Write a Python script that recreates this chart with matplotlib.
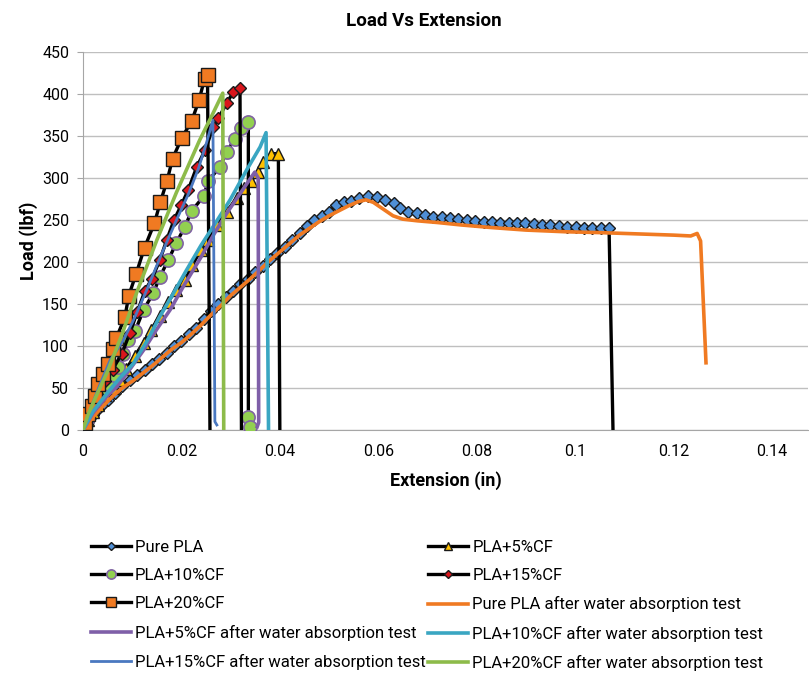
import matplotlib
matplotlib.use("Agg")
import matplotlib.pyplot as plt

plt.rcParams['font.family'] = ['Roboto', 'DejaVu Sans']

# ---------------- data ----------------
pure_x = [0, 0.001, 0.002, 0.003, 0.004, 0.005, 0.0065, 0.008, 0.0095, 0.011, 0.0125, 0.014,
          0.0155, 0.017, 0.0185, 0.020, 0.0215, 0.023, 0.0245, 0.026, 0.0275, 0.029, 0.0305,
          0.032, 0.0335, 0.035, 0.0365, 0.038, 0.0395, 0.041, 0.0425, 0.044, 0.0455, 0.047,
          0.0485, 0.050, 0.0515, 0.053, 0.0545, 0.056, 0.058, 0.0597, 0.0614, 0.0631, 0.0644,
          0.0661, 0.0678, 0.0695, 0.0712, 0.0729, 0.0746, 0.0763, 0.078, 0.0797, 0.0814, 0.0831,
          0.0848, 0.0865, 0.0882, 0.0899, 0.0916, 0.0933, 0.095, 0.0967, 0.0984, 0.1001, 0.1018,
          0.1035, 0.1052, 0.1069, 0.1077]
pure_y = [0, 10, 18, 25, 31, 36, 44, 52, 59, 65, 71, 78, 84, 92, 100, 106, 114, 122, 132, 142,
          150, 158, 166, 174, 180, 188, 195, 203, 211, 218, 226, 234, 243, 250, 255, 260, 268,
          271, 273, 276, 279, 277, 274, 270, 264, 260, 258, 256, 254, 253, 252, 251, 250, 249,
          248, 248, 247, 246, 246, 246, 245, 244, 244, 243, 242, 242, 241, 241, 240, 240, 0]

cf5_x = [0, 0.001, 0.002, 0.003, 0.0045, 0.006, 0.0075, 0.0088, 0.0105, 0.0123, 0.0138, 0.0156,
         0.0172, 0.019, 0.0207, 0.0222, 0.0239, 0.0255, 0.0272, 0.0292, 0.0312, 0.0327, 0.0342,
         0.0356, 0.0366, 0.0383, 0.0397, 0.0400]
cf5_y = [0, 12, 22, 30, 42, 50, 59, 73, 88, 104, 119, 136, 152, 167, 178, 196, 214, 226, 244,
         260, 276, 288, 297, 307, 319, 329, 329, 1]

cf10_x = [0, 0.001, 0.002, 0.0035, 0.005, 0.0062, 0.0072, 0.0082, 0.0092, 0.0106, 0.0123, 0.0143,
          0.0156, 0.0173, 0.019, 0.0207, 0.0221, 0.0245, 0.0255, 0.0278, 0.0292, 0.0309, 0.0322,
          0.0336, 0.0336, 0.034]
cf10_y = [0, 14, 27, 42, 55, 65, 75, 91, 107, 118, 143, 163, 182, 202, 223, 242, 261, 278, 297,
          313, 331, 347, 359, 367, 15, 3]

cf15_x = [0, 0.001, 0.002, 0.003, 0.0045, 0.006, 0.0079, 0.0095, 0.011, 0.0126, 0.014, 0.0156,
          0.017, 0.0185, 0.020, 0.0214, 0.0231, 0.0248, 0.0265, 0.0275, 0.0292, 0.0305, 0.0319,
          0.0322]
cf15_y = [0, 15, 30, 42, 58, 72, 91, 115, 140, 166, 180, 202, 226, 250, 268, 286, 313, 333, 361,
          371, 389, 402, 407, 0]

cf20_x = [0, 0.0005, 0.0011, 0.0018, 0.0024, 0.0031, 0.0041, 0.0051, 0.0061, 0.0068, 0.0085,
          0.0093, 0.0108, 0.0125, 0.0145, 0.0157, 0.0171, 0.0182, 0.0201, 0.0221, 0.0236, 0.0247,
          0.0253, 0.0258]
cf20_y = [0, 8, 19, 29, 41, 55, 67, 79, 97, 110, 134, 160, 186, 217, 246, 271, 297, 323, 348, 368,
          393, 418, 423, 0]

pure_w_x = [0, 0.002, 0.004, 0.006, 0.008, 0.010, 0.012, 0.014, 0.016, 0.018, 0.020, 0.022, 0.024,
            0.026, 0.028, 0.030, 0.032, 0.034, 0.036, 0.038, 0.040, 0.042, 0.044, 0.046, 0.048,
            0.050, 0.052, 0.054, 0.056, 0.0575, 0.059, 0.061, 0.063, 0.065, 0.068, 0.072, 0.077,
            0.083, 0.090, 0.098, 0.105, 0.110, 0.115, 0.120, 0.1235, 0.1248, 0.1255, 0.1266]
pure_w_y = [0, 15, 28, 40, 50, 58, 67, 76, 86, 96, 104, 114, 125, 137, 148, 160, 170, 180, 191,
            202, 212, 222, 232, 240, 248, 255, 261, 267, 272, 274, 271, 263, 255, 251, 249, 247,
            244, 241, 238, 236, 235, 234, 233, 232, 231, 234, 225, 80]

cf5_w_x = [0, 0.002, 0.0045, 0.0068, 0.0095, 0.0123, 0.015, 0.0177, 0.0205, 0.0238, 0.0265,
           0.0292, 0.032, 0.0349, 0.0356, 0.0357, 0.0354]
cf5_w_y = [0, 20, 38, 51, 72, 95, 120, 143, 172, 204, 232, 258, 282, 307, 300, 9, 4]

cf10_w_x = [0, 0.002, 0.0048, 0.0075, 0.0102, 0.013, 0.0156, 0.0183, 0.021, 0.024, 0.0271,
            0.0299, 0.0333, 0.036, 0.0372, 0.0377]
cf10_w_y = [0, 22, 43, 62, 79, 106, 135, 162, 190, 220, 248, 274, 310, 337, 354, 0]

cf15_w_x = [0, 0.0015, 0.0035, 0.0055, 0.008, 0.0102, 0.0129, 0.016, 0.019, 0.0215, 0.0235,
            0.0251, 0.0264, 0.0268, 0.0272]
cf15_w_y = [0, 25, 55, 83, 105, 130, 166, 210, 250, 282, 312, 342, 369, 10, 6]

cf20_w_x = [0, 0.001, 0.0025, 0.005, 0.008, 0.011, 0.015, 0.019, 0.0237, 0.0265, 0.0284, 0.0286]
cf20_w_y = [0, 18, 38, 70, 115, 165, 226, 283, 345, 378, 401, 0]

x_ticks = [0, 0.02, 0.04, 0.06, 0.08, 0.1, 0.12, 0.14]
x_tick_labels = ['0', '0.02', '0.04', '0.06', '0.08', '0.1', '0.12', '0.14']
y_ticks = [0, 50, 100, 150, 200, 250, 300, 350, 400, 450]

labels = ['Pure PLA', 'PLA+5%CF', 'PLA+10%CF', 'PLA+15%CF', 'PLA+20%CF',
          'Pure PLA after water absorption test', 'PLA+5%CF after water absorption test',
          'PLA+10%CF after water absorption test', 'PLA+15%CF after water absorption test',
          'PLA+20%CF after water absorption test']

# ---------------- figure ----------------
fig = plt.figure(figsize=(8.09, 6.76), dpi=100)
ax = fig.add_axes([83 / 809, 1 - 430 / 676, (808 - 83) / 809, (430 - 52) / 676])

handles = {}

def marked(x, y, marker, face, edge, ms, label, mew=1.0):
    n = len(x)
    h, = ax.plot(x, y, color='black', lw=2.4, marker=marker, ms=ms, mfc=face, mec=edge,
                 mew=mew, markevery=list(range(n - 1)) if y[-1] < 5 else None, label=label,
                 zorder=3)
    handles[label] = h

marked(pure_x, pure_y, 'D', '#4F8FD6', '#1a1a1a', 6.5, labels[0])
marked(cf5_x, cf5_y, '^', '#FFC000', '#1a1a1a', 8, labels[1])
h, = ax.plot(cf10_x, cf10_y, color='black', lw=2.4, marker='o', ms=9.5, mfc='#92D050',
             mec='#8064A2', mew=1.2, label=labels[2], zorder=3)
handles[labels[2]] = h
marked(cf15_x, cf15_y, 'D', '#D9161C', '#1a1a1a', 6.5, labels[3])
marked(cf20_x, cf20_y, 's', '#F07A22', '#1a1a1a', 10, labels[4])

def plain(x, y, color, lw, label):
    h, = ax.plot(x, y, color=color, lw=lw, label=label, zorder=4)
    handles[label] = h

plain(pure_w_x, pure_w_y, '#F07A22', 2.6, labels[5])
plain(cf5_w_x, cf5_w_y, '#7F5FA8', 2.6, labels[6])
plain(cf10_w_x, cf10_w_y, '#3AA6C2', 2.6, labels[7])
plain(cf15_w_x, cf15_w_y, '#4A78C0', 2.0, labels[8])
plain(cf20_w_x, cf20_w_y, '#8DBB4A', 2.6, labels[9])

ax.set_xlim(0, (808 - 83) / 4921)
ax.set_ylim(0, 450)
ax.set_xticks(x_ticks)
ax.set_xticklabels(x_tick_labels)
ax.set_yticks(y_ticks)
ax.grid(axis='y', color='#BFBFBF', lw=1.0)
ax.set_axisbelow(True)
for s in ['top', 'right']:
    ax.spines[s].set_visible(False)
for s in ['left', 'bottom']:
    ax.spines[s].set_color('#A6A6A6')
ax.tick_params(axis='y', length=4, color='#A6A6A6', labelsize=11.5, pad=6)
ax.tick_params(axis='x', length=0, labelsize=11.5, pad=10)

ax.set_title('Load Vs Extension', fontsize=13.5, fontweight='bold', pad=19, x=0.47)
ax.set_xlabel('Extension (in)', fontsize=13, fontweight='bold', labelpad=9)
ax.set_ylabel('Load (lbf)', fontsize=13, fontweight='bold', labelpad=3)

order_col = [labels[0], labels[2], labels[4], labels[6], labels[8],
             labels[1], labels[3], labels[5], labels[7], labels[9]]
leg = fig.legend([handles[l] for l in order_col], order_col, ncol=2, loc='upper left',
                 bbox_to_anchor=(84 / 809, 1 - 533 / 676), frameon=False, fontsize=12.0,
                 handlelength=2.4, handletextpad=0.25, columnspacing=0.15, labelspacing=0.8,
                 markerscale=0.7, borderaxespad=0)

fig.savefig('out.png', dpi=100)
